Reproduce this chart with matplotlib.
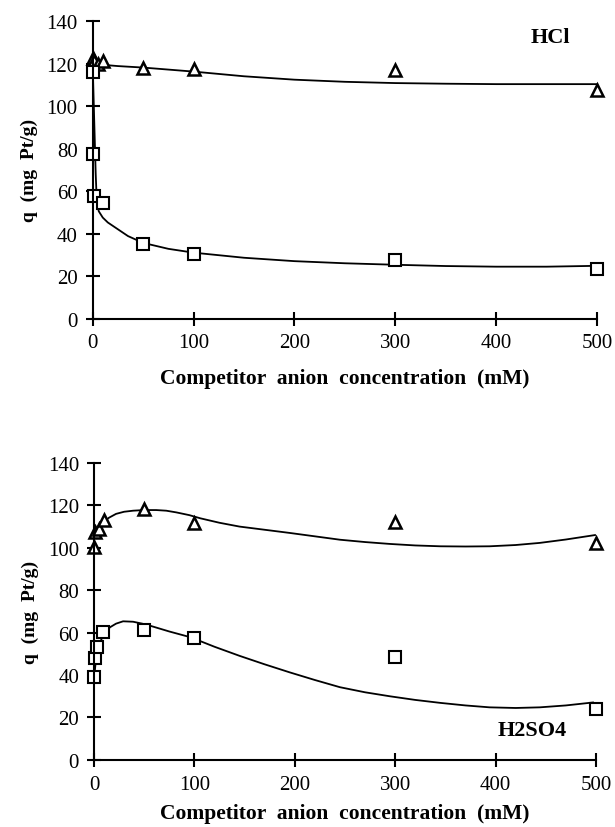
import matplotlib.pyplot as plt

plt.rcParams['font.family'] = ['Liberation Serif', 'DejaVu Serif']

# HCl panel - measured points
hcl_tri_x = [0, 1, 5, 10, 50, 100, 300, 500]
hcl_tri_y = [122.5, 121, 120, 121, 117.7, 117.4, 117, 107.7]
hcl_sq_x = [0, 0.5, 1.5, 10, 50, 100, 300, 500]
hcl_sq_y = [115.9, 77.4, 57.8, 54.5, 35, 30.4, 27.5, 23.3]

# HCl panel - fitted curves
hcl_tri_fit_x = [0, 3, 10, 25, 50, 100, 150, 200, 250, 300, 350, 400, 450, 500]
hcl_tri_fit_y = [119.5, 119.8, 119.4, 118.8, 118.1, 116.2, 114.0, 112.4, 111.4, 110.8, 110.5, 110.3, 110.3, 110.3]
hcl_sq_fit_x = [0, 1, 2, 3, 4, 6, 10, 15, 25, 35, 50, 75, 100, 150, 200, 250, 300, 350, 400, 450, 500]
hcl_sq_fit_y = [119, 102, 85, 68, 56, 50.5, 47.5, 45.2, 42, 38.8, 35.6, 32.8, 31, 28.6, 27, 26, 25.3, 24.7, 24.4, 24.4, 24.8]

# H2SO4 panel - measured points
h2so4_tri_x = [0, 1, 5, 10, 50, 100, 300, 500]
h2so4_tri_y = [100.2, 107.5, 109, 113, 118.3, 111.7, 112, 102.1]
h2so4_sq_x = [0, 1, 3, 9, 50, 100, 300, 500]
h2so4_sq_y = [38.9, 47.8, 53, 60.4, 61.4, 57.3, 48.3, 23.9]

# H2SO4 panel - fitted curves
h2so4_tri_fit_x = [0, 4, 9, 15, 22, 30, 39, 50, 62, 72, 82, 95, 106, 125, 145, 170, 195, 220, 245, 270, 295, 320, 345, 370, 394, 420, 444, 470, 499]
h2so4_tri_fit_y = [106.5, 109.5, 112, 114.2, 116, 117, 117.5, 117.8, 117.8, 117.5, 116.7, 115.4, 113.9, 111.8, 110, 108.5, 107, 105.4, 103.8, 102.7, 101.8, 101.1, 100.7, 100.6, 100.7, 101.3, 102.3, 103.9, 106]
h2so4_sq_fit_x = [0, 1.5, 2.6, 5, 7.6, 11, 16, 22, 29, 39, 48, 56, 75, 96, 120, 145, 170, 195, 220, 245, 270, 295, 320, 345, 370, 394, 420, 444, 470, 497]
h2so4_sq_fit_y = [38, 45, 49, 54, 57, 60, 62.5, 64.2, 65.3, 65.1, 64.2, 63.2, 60.5, 57.8, 53.3, 49, 45, 41.2, 37.6, 34.2, 31.8, 29.9, 28.2, 26.8, 25.6, 24.7, 24.4, 24.7, 25.6, 27]

xticks = [0, 100, 200, 300, 400, 500]
yticks = [0, 20, 40, 60, 80, 100, 120, 140]
xlabel = 'Competitor  anion  concentration  (mM)'
ylabel = 'q  (mg  Pt/g)'


def draw_panel(ax, tri_x, tri_y, sq_x, sq_y, tfx, tfy, sfx, sfy, name, name_xy, xpad):
    ax.plot(tfx, tfy, color='black', lw=1.3, clip_on=False)
    ax.plot(sfx, sfy, color='black', lw=1.3, clip_on=False)
    ax.plot(tri_x, tri_y, ls='none', marker='^', ms=9, mfc='white', mec='black', mew=1.8, clip_on=False)
    ax.plot(sq_x, sq_y, ls='none', marker='s', ms=8, mfc='white', mec='black', mew=1.5, clip_on=False)
    ax.set_xlim(0, 500)
    ax.set_ylim(0, 140)
    ax.set_xticks(xticks)
    ax.set_yticks(yticks)
    for s in ['top', 'right']:
        ax.spines[s].set_visible(False)
    for s in ['left', 'bottom']:
        ax.spines[s].set_linewidth(1.5)
    ax.tick_params(direction='inout', length=9.5, width=1.5, labelsize=15, pad=6)
    ax.set_xlabel(xlabel, fontsize=15.5, fontweight='bold', labelpad=xpad)
    ax.set_ylabel(ylabel, fontsize=14, fontweight='bold', labelpad=6)
    ax.text(name_xy[0], name_xy[1], name, fontsize=16, fontweight='bold', ha='center', va='center')


fig = plt.figure(figsize=(6.15, 8.28), dpi=100)
ax1 = fig.add_axes([0.1507, 0.6141, 0.820, 0.3593])
draw_panel(ax1, hcl_tri_x, hcl_tri_y, hcl_sq_x, hcl_sq_y,
           hcl_tri_fit_x, hcl_tri_fit_y, hcl_sq_fit_x, hcl_sq_fit_y, 'HCl', (454, 132.7), 11)

ax2 = fig.add_axes([0.1528, 0.0813, 0.8163, 0.3583])
draw_panel(ax2, h2so4_tri_x, h2so4_tri_y, h2so4_sq_x, h2so4_sq_y,
           h2so4_tri_fit_x, h2so4_tri_fit_y, h2so4_sq_fit_x, h2so4_sq_fit_y, 'H2SO4', (436, 13.8), 7)

plt.savefig('out.png', dpi=100)
